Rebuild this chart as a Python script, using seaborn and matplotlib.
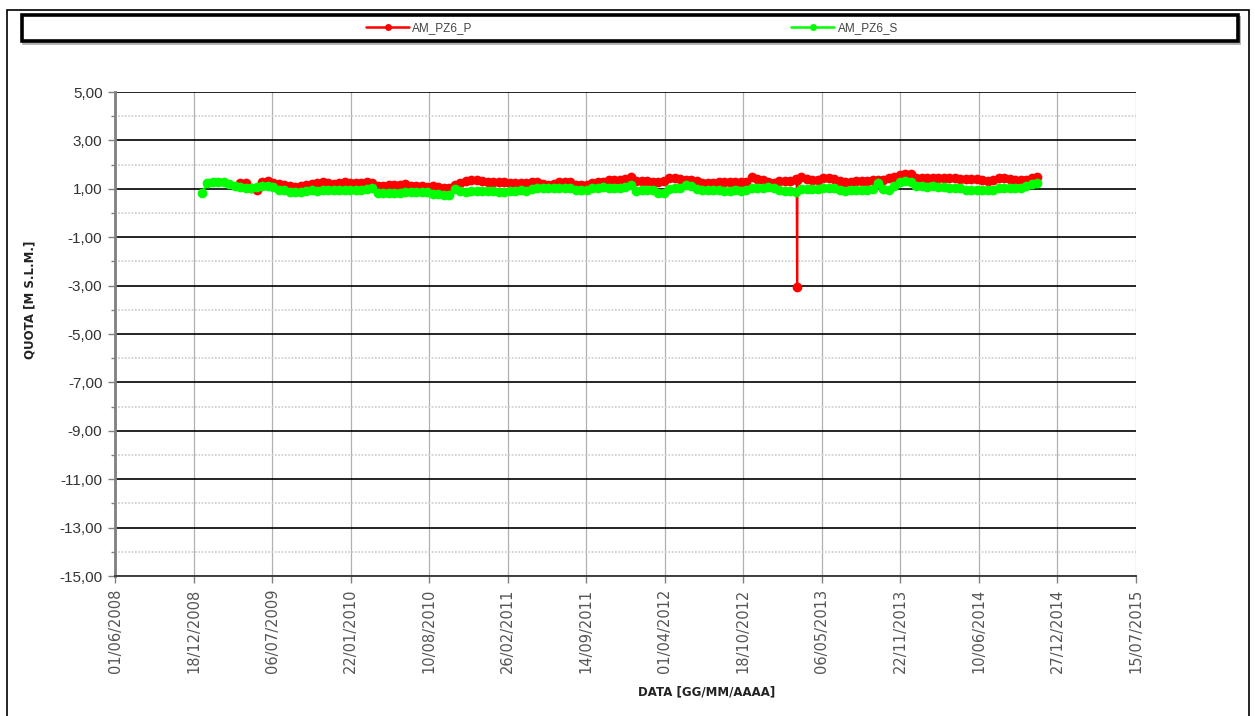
import pandas as pd
import matplotlib
matplotlib.use("Agg")
import matplotlib.pyplot as plt
import matplotlib.dates as mdates
from matplotlib.ticker import FixedLocator, FuncFormatter
from matplotlib.patches import Rectangle
import seaborn as sns

# ---- data -------------------------------------------------------------
SERIES_P = "AM_PZ6_P"
SERIES_S = "AM_PZ6_S"

# readings every 14 days starting from this date
START = "2009-01-08"
STEP = "14D"

# AM_PZ6_S water level [m s.l.m.]
pz6_s = [
    0.82, 1.24, 1.30, 1.28, 1.30, 1.18, 1.12, 1.06, 1.04, 1.03,
    1.09, 1.11, 1.10, 1.06, 0.96, 0.94, 0.87, 0.85, 0.87, 0.91,
    0.93, 0.92, 0.96, 0.97, 0.95, 0.97, 0.96, 0.95, 0.97, 0.96,
    1.00, 1.05, 0.84, 0.82, 0.83, 0.81, 0.83, 0.86, 0.85, 0.87,
    0.85, 0.86, 0.79, 0.78, 0.75, 0.74, 0.98, 0.90, 0.88, 0.90,
    0.89, 0.92, 0.91, 0.92, 0.86, 0.85, 0.90, 0.92, 0.93, 0.92,
    0.98, 1.03, 1.04, 1.02, 1.03, 1.05, 1.03, 1.02, 0.96, 0.95,
    0.97, 1.03, 1.05, 1.06, 1.05, 1.04, 1.03, 1.06, 1.14, 0.89,
    0.95, 0.97, 0.95, 0.84, 0.82, 0.98, 1.03, 1.05, 1.14, 1.10,
    0.98, 0.96, 0.95, 0.97, 0.93, 0.92, 0.91, 0.93, 0.92, 0.95,
    1.04, 1.05, 1.05, 1.09, 1.02, 0.93, 0.92, 0.91, 0.86, 0.99,
    1.00, 1.01, 1.00, 1.04, 1.05, 1.03, 0.93, 0.92, 0.93, 0.96,
    0.97, 0.95, 0.98, 1.22, 0.98, 0.96, 1.12, 1.28, 1.31, 1.29,
    1.12, 1.10, 1.09, 1.11, 1.08, 1.07, 1.03, 1.04, 1.02, 0.97,
    0.96, 0.95, 0.97, 0.94, 0.97, 1.03, 1.02, 1.04, 1.03, 1.05,
    1.12, 1.20, 1.24,
]

# AM_PZ6_P water level [m s.l.m.], first reading at the 8th date of the schedule
P_FIRST_INDEX = 7
pz6_p = [
    1.22, 1.24, 1.05, 0.95, 1.29, 1.31, 1.22, 1.18, 1.17, 1.11,
    1.09, 1.10, 1.17, 1.19, 1.22, 1.28, 1.24, 1.19, 1.22, 1.30,
    1.25, 1.23, 1.24, 1.30, 1.26, 1.11, 1.10, 1.14, 1.15, 1.14,
    1.19, 1.11, 1.10, 1.11, 1.09, 1.12, 1.06, 1.03, 1.05, 1.17,
    1.25, 1.33, 1.36, 1.35, 1.31, 1.28, 1.29, 1.27, 1.28, 1.24,
    1.23, 1.22, 1.24, 1.29, 1.30, 1.19, 1.17, 1.18, 1.27, 1.29,
    1.27, 1.15, 1.14, 1.15, 1.26, 1.28, 1.30, 1.36, 1.38, 1.37,
    1.39, 1.50, 1.34, 1.33, 1.32, 1.30, 1.29, 1.31, 1.43, 1.45,
    1.42, 1.38, 1.37, 1.33, 1.23, 1.22, 1.24, 1.30, 1.28, 1.27,
    1.29, 1.28, 1.30, 1.47, 1.40, 1.37, 1.28, 1.23, 1.32, 1.33,
    1.31, 1.40, 1.48, 1.40, 1.37, 1.38, 1.43, 1.45, 1.41, 1.31,
    1.29, 1.30, 1.33, 1.34, 1.32, 1.36, 1.38, 1.37, 1.43, 1.49,
    1.58, 1.62, 1.60, 1.45, 1.44, 1.45, 1.43, 1.44, 1.45, 1.43,
    1.44, 1.42, 1.40, 1.39, 1.41, 1.35, 1.33, 1.36, 1.44, 1.43,
    1.42, 1.37, 1.36, 1.38, 1.46, 1.48,
]

# daily readings around the anomalous low value of AM_PZ6_P
p_extra_dates = ["2013-03-03", "2013-03-04", "2013-03-05"]
p_extra_vals = [1.36, -3.05, 1.38]

x_tick_labels = [
    "01/06/2008", "18/12/2008", "06/07/2009", "22/01/2010", "10/08/2010",
    "26/02/2011", "14/09/2011", "01/04/2012", "18/10/2012", "06/05/2013",
    "22/11/2013", "10/06/2014", "27/12/2014", "15/07/2015",
]
y_major = [5, 3, 1, -1, -3, -5, -7, -9, -11, -13, -15]
y_minor = [4, 2, 0, -2, -4, -6, -8, -10, -12, -14]

colors = {SERIES_P: "#FF0000", SERIES_S: "#00FF00"}

# ---- assemble long table ----------------------------------------------
s_dates = pd.date_range(START, periods=len(pz6_s), freq=STEP)
p_dates = s_dates[P_FIRST_INDEX:P_FIRST_INDEX + len(pz6_p)]

df_p = pd.DataFrame({"date": list(p_dates) + list(pd.to_datetime(p_extra_dates)),
                     "quota": pz6_p + p_extra_vals})
df_p = df_p.sort_values("date")
df_p["serie"] = SERIES_P
df_s = pd.DataFrame({"date": s_dates, "quota": pz6_s, "serie": SERIES_S})
df = pd.concat([df_p, df_s], ignore_index=True)

# ---- figure -----------------------------------------------------------
sns.set_style("white")
plt.rcParams["font.family"] = ["Liberation Sans", "DejaVu Sans"]

W, H = 1255, 716
fig = plt.figure(figsize=(W / 100, H / 100), dpi=100)
ax = fig.add_axes([115 / W, 1 - 576 / H, (1136 - 115) / W, (576 - 92) / H])

sns.lineplot(data=df, x="date", y="quota", hue="serie",
             hue_order=[SERIES_P, SERIES_S], palette=colors,
             estimator=None, sort=False, marker="o", markersize=7,
             markeredgewidth=0, linewidth=1.6, ax=ax, legend=True)

handles, labels = ax.get_legend_handles_labels()
if ax.get_legend() is not None:
    ax.get_legend().remove()
for h in handles:
    h.set_linewidth(1.8)
    h.set_markersize(5)

# x axis: dates every 200 days
tick_dates = pd.to_datetime(x_tick_labels, format="%d/%m/%Y")
ax.set_xlim(tick_dates[0], tick_dates[-1])
ax.xaxis.set_major_locator(FixedLocator(mdates.date2num(tick_dates)))
ax.xaxis.set_major_formatter(mdates.DateFormatter("%d/%m/%Y"))
for lab in ax.get_xticklabels():
    lab.set_rotation(90)
    lab.set_fontfamily("DejaVu Sans")
    lab.set_fontsize(10.5)
    lab.set_color("#555555")

# y axis
ax.set_ylim(-15, 5)
ax.yaxis.set_major_locator(FixedLocator(y_major))
ax.yaxis.set_minor_locator(FixedLocator(y_minor))
ax.yaxis.set_major_formatter(FuncFormatter(lambda v, _: f"{v:.2f}".replace(".", ",")))
ax.tick_params(axis="y", which="major", labelsize=11, labelcolor="#333333",
               length=5, width=1, color="#808080", direction="out", left=True, pad=4)
ax.tick_params(axis="y", which="minor", length=3, width=1, color="#808080",
               direction="out", left=True)
ax.tick_params(axis="x", which="major", length=5, width=1, color="#808080",
               direction="out", bottom=True, pad=4)

ax.set_xlabel("")
ax.set_ylabel("")

# grid
ax.grid(False)
ax.grid(True, which="major", axis="y", color="black", linewidth=1.2)
ax.grid(True, which="minor", axis="y", color="#cccccc", linestyle=(0, (1, 1)), linewidth=1.2)
ax.grid(True, which="major", axis="x", color="#b0b0b0", linewidth=0.9)
ax.set_axisbelow(True)

for side in ("top", "right"):
    ax.spines[side].set_visible(False)
ax.spines["left"].set_color("#808080")
ax.spines["left"].set_linewidth(2)
ax.spines["bottom"].set_color("#404040")
ax.spines["bottom"].set_linewidth(1.4)

# axis titles
fig.text(30 / W, 1 - 300 / H, "QUOTA [M S.L.M.]", rotation=90, ha="center",
         va="center", fontsize=8.5, fontweight="bold", color="#222222",
         family="DejaVu Sans")
fig.text(707 / W, 1 - 692 / H, "DATA [GG/MM/AAAA]", ha="center", va="center",
         fontsize=8.5, fontweight="bold", color="#222222", family="DejaVu Sans")

# outer frame and legend box
fig.patches.append(Rectangle((7 / W, -0.05), (1249 - 7) / W, 1 - 10 / H + 0.05,
                             transform=fig.transFigure, fill=False,
                             edgecolor="black", linewidth=1.2))
fig.patches.append(Rectangle((23 / W, 1 - 43 / H), (1238 - 22) / W, (43 - 17) / H,
                             transform=fig.transFigure, fill=False,
                             edgecolor="#b0b0b0", linewidth=2))
fig.patches.append(Rectangle((22 / W, 1 - 41 / H), (1238 - 22) / W, (41 - 15) / H,
                             transform=fig.transFigure, facecolor="white",
                             edgecolor="black", linewidth=2.6))

fig.legend(handles, labels, loc="center", bbox_to_anchor=(632 / W, 1 - 28 / H),
           ncol=2, frameon=False, fontsize=8.5, handlelength=3.6,
           handletextpad=0.3, columnspacing=27, labelcolor="#444444")

fig.savefig("out.png", dpi=100)
